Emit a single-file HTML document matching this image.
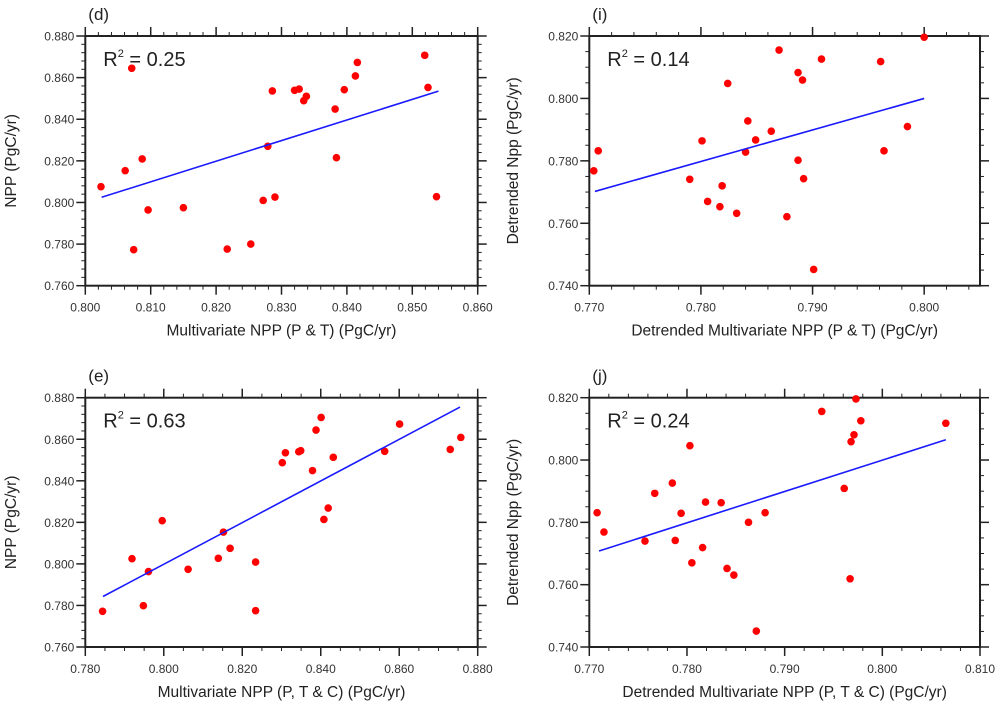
<!DOCTYPE html>
<html><head><meta charset="utf-8"><style>
html,body{margin:0;padding:0;background:#fff;}
svg{display:block;font-family:"Liberation Sans",sans-serif;}
</style></head><body>
<svg id="fig" width="1000" height="706" viewBox="0 0 1000 706"></svg>
<script>
// Panel (d)
const dX = [0.8024,0.8061,0.8071,0.8087,0.8074,0.8096,0.8150,0.8217,0.8253,0.8272,0.8279,0.8286,0.8290,0.8320,0.8327,0.8334,0.8338,0.8382,0.8384,0.8396,0.8413,0.8416,0.8519,0.8524,0.8537];
const dY = [0.8076,0.8153,0.8645,0.8209,0.7773,0.7964,0.7975,0.7776,0.7800,0.8010,0.8270,0.8536,0.8026,0.8539,0.8545,0.8489,0.8510,0.8449,0.8215,0.8542,0.8608,0.8673,0.8707,0.8553,0.8028];
const dFit = [[0.8025,0.8025],[0.8540,0.8535]];
const dXTicks = ["0.800","0.810","0.820","0.830","0.840","0.850","0.860"];
const dYTicks = ["0.760","0.780","0.800","0.820","0.840","0.860","0.880"];
// Panel (i)
const iX = [0.7704,0.7708,0.7790,0.7801,0.7806,0.7817,0.7819,0.7824,0.7832,0.7840,0.7842,0.7849,0.7863,0.7870,0.7877,0.7887,0.7887,0.7891,0.7892,0.7901,0.7908,0.7961,0.7964,0.7985,0.8000];
const iY = [0.7768,0.7832,0.7741,0.7864,0.7670,0.7653,0.7720,0.8048,0.7632,0.7828,0.7928,0.7867,0.7895,0.8155,0.7621,0.7802,0.8083,0.8059,0.7743,0.7452,0.8126,0.8118,0.7832,0.7910,0.8196];
const iFit = [[0.7705,0.7702],[0.8000,0.8000]];
const iXTicks = ["0.770","0.780","0.790","0.800"];
const iYTicks = ["0.740","0.760","0.780","0.800","0.820"];
// Panel (e)
const eX = [0.7844,0.7919,0.7948,0.7961,0.7996,0.8062,0.8139,0.8152,0.8169,0.8234,0.8234,0.8302,0.8310,0.8344,0.8349,0.8379,0.8388,0.8401,0.8408,0.8419,0.8432,0.8563,0.8601,0.8730,0.8757];
const eY = [0.7772,0.8025,0.7799,0.7963,0.8208,0.7974,0.8027,0.8153,0.8075,0.8009,0.7775,0.8487,0.8535,0.8540,0.8545,0.8449,0.8644,0.8705,0.8214,0.8269,0.8513,0.8542,0.8673,0.8551,0.8609];
const eFit = [[0.7845,0.7843],[0.8755,0.8755]];
const eXTicks = ["0.780","0.800","0.820","0.840","0.860","0.880"];
const eYTicks = ["0.760","0.780","0.800","0.820","0.840","0.860","0.880"];
// Panel (j)
const jX = [0.7708,0.7715,0.7757,0.7767,0.7785,0.7788,0.7794,0.7803,0.7805,0.7816,0.7819,0.7835,0.7841,0.7848,0.7863,0.7871,0.7880,0.7938,0.7961,0.7967,0.7968,0.7971,0.7973,0.7978,0.8065];
const jY = [0.7831,0.7769,0.7740,0.7893,0.7926,0.7742,0.7829,0.8046,0.7670,0.7719,0.7865,0.7863,0.7652,0.7631,0.7800,0.7451,0.7831,0.8156,0.7909,0.7619,0.8059,0.8081,0.8196,0.8126,0.8118];
const jFit = [[0.7710,0.7708],[0.8065,0.8065]];
const jXTicks = ["0.770","0.780","0.790","0.800","0.810"];
const jYTicks = ["0.740","0.760","0.780","0.800","0.820"];

const NS = "http://www.w3.org/2000/svg";
const svg = document.getElementById('fig');
function mk(tag, attrs, parent){const e=document.createElementNS(NS,tag);for(const k in attrs)e.setAttribute(k,attrs[k]);(parent||svg).appendChild(e);return e;}

function panel(cfg){
  const g = mk('g',{});
  
  
  const L=cfg.box[0],T=cfg.box[1],R=cfg.box[2],B=cfg.box[3];
  const xs=v=>L+(v-cfg.xr[0])/(cfg.xr[1]-cfg.xr[0])*(R-L);
  const ys=v=>B-(v-cfg.yr[0])/(cfg.yr[1]-cfg.yr[0])*(B-T);
  for(let v=cfg.xr[0]; v<=cfg.xr[1]+1e-9; v+=cfg.xminor){
    const x=xs(v);
    mk('line',{x1:x,x2:x,y1:B,y2:B+4,stroke:'#222','stroke-width':1},g);
    mk('line',{x1:x,x2:x,y1:T,y2:T-4,stroke:'#222','stroke-width':1},g);
  }
  for(let v=cfg.yr[0]; v<=cfg.yr[1]+1e-9; v+=cfg.yminor){
    const y=ys(v);
    mk('line',{x1:L,x2:L-4,y1:y,y2:y,stroke:'#222','stroke-width':1},g);
    mk('line',{x1:R,x2:R+4,y1:y,y2:y,stroke:'#222','stroke-width':1},g);
  }
  cfg.xt.forEach(t=>{
    const x=xs(parseFloat(t));
    mk('line',{x1:x,x2:x,y1:B,y2:B+9,stroke:'#222','stroke-width':1.5},g);
    mk('line',{x1:x,x2:x,y1:T,y2:T-9,stroke:'#222','stroke-width':1.5},g);
    const tx=mk('text',{x:x,y:B+26,'text-anchor':'middle','font-size':12,fill:'#333'},g);
    tx.textContent=t;
    
    
  });
  cfg.yt.forEach(t=>{
    const y=ys(parseFloat(t));
    mk('line',{x1:L,x2:L-9,y1:y,y2:y,stroke:'#222','stroke-width':1.5},g);
    mk('line',{x1:R,x2:R+9,y1:y,y2:y,stroke:'#222','stroke-width':1.5},g);
    const tx=mk('text',{x:L-11,y:y+4.5,'text-anchor':'end','font-size':12,fill:'#333'},g);
    tx.textContent=t;
    
    
  });
  const box=mk('rect',{x:L,y:T,width:R-L,height:B-T,fill:'none',stroke:'#222','stroke-width':2},g);
  
  
  cfg.xs.forEach((v,i)=>{
    const c=mk('circle',{cx:xs(v),cy:ys(cfg.ys[i]),r:3.8,fill:'#ff0000'},g);
    
    
  });
  const ln=mk('line',{x1:xs(cfg.fit[0][0]),y1:ys(cfg.fit[0][1]),x2:xs(cfg.fit[1][0]),y2:ys(cfg.fit[1][1]),stroke:'#1a1aff','stroke-width':1.6},g);
  
  
  const lab=mk('text',{x:L+3,y:T-16,'font-size':17,fill:'#222'},g);
  lab.textContent=cfg.label;
  
  
  const r2=mk('text',{x:L+18,y:T+30,'font-size':20,fill:'#222'},g);
  r2.innerHTML='R<tspan dy="-9" font-size="11">2</tspan><tspan dy="9"> = '+cfg.r2+'</tspan>';
  
  
  const xt=mk('text',{x:(L+R)/2,y:B+50,'text-anchor':'middle','font-size':15.5,fill:'#222'},g);
  xt.textContent=cfg.xtitle;
  
  
  const cy=(T+B)/2;
  const yt=mk('text',{x:0,y:0,'text-anchor':'middle','font-size':15.5,fill:'#222',transform:'translate('+(cfg.ytx)+','+cy+') rotate(-90)'},g);
  yt.textContent=cfg.ytitle;
  
  
}

panel({id:'d',label:'(d)',r2:'0.25',box:[85.3,36,477.7,285.7],xr:[0.80,0.86],yr:[0.76,0.88],xminor:0.002,yminor:0.004,
  xs:dX,ys:dY,fit:dFit,xt:dXTicks,yt:dYTicks,xtitle:'Multivariate NPP (P & T) (PgC/yr)',ytitle:'NPP (PgC/yr)',ytx:16});
panel({id:'i',label:'(i)',r2:'0.14',box:[589.3,36,980,285.7],xr:[0.77,0.805],yr:[0.74,0.82],xminor:0.002,yminor:0.005,
  xs:iX,ys:iY,fit:iFit,xt:iXTicks,yt:iYTicks,xtitle:'Detrended Multivariate NPP (P & T) (PgC/yr)',ytitle:'Detrended Npp (PgC/yr)',ytx:518});
panel({id:'e',label:'(e)',r2:'0.63',box:[85.3,397.7,477.7,647],xr:[0.78,0.88],yr:[0.76,0.88],xminor:0.005,yminor:0.004,
  xs:eX,ys:eY,fit:eFit,xt:eXTicks,yt:eYTicks,xtitle:'Multivariate NPP (P, T & C) (PgC/yr)',ytitle:'NPP (PgC/yr)',ytx:16});
panel({id:'j',label:'(j)',r2:'0.24',box:[589.3,397.7,980,647],xr:[0.77,0.81],yr:[0.74,0.82],xminor:0.002,yminor:0.005,
  xs:jX,ys:jY,fit:jFit,xt:jXTicks,yt:jYTicks,xtitle:'Detrended Multivariate NPP (P, T & C) (PgC/yr)',ytitle:'Detrended Npp (PgC/yr)',ytx:518});
</script>
</body></html>
